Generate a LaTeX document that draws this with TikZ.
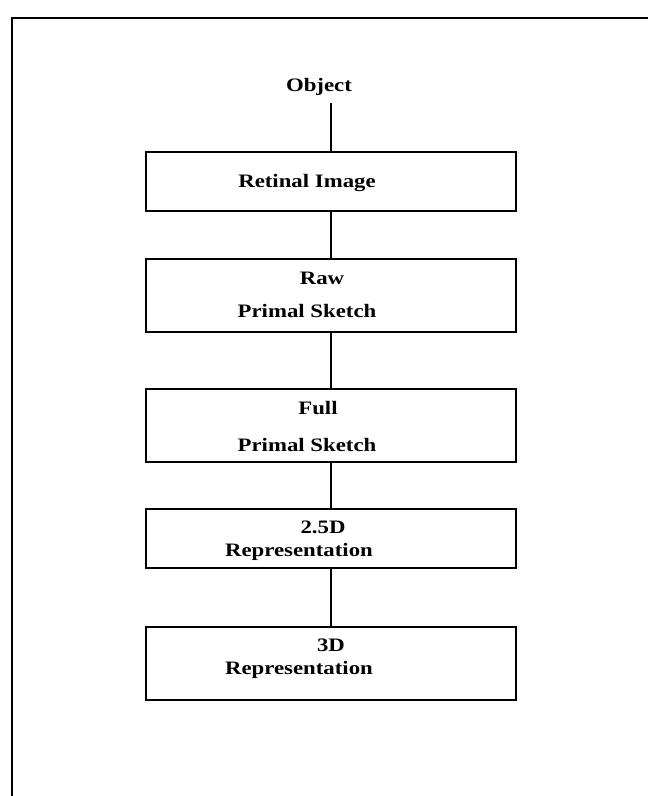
\documentclass[tikz,border=0pt]{standalone}
\usepackage{fontspec}
\newfontfamily\stagefont{Liberation Serif}[FakeStretch=1.2]

\begin{document}
\begin{tikzpicture}[x=1pt,y=-1pt,
  stage node/.style={draw,line width=2.5pt,minimum width=370pt,inner sep=0pt},
  text node/.style={font=\stagefont\bfseries\fontsize{19}{23}\selectfont,anchor=base,inner sep=0pt}]
  \useasboundingbox (0,0) rectangle (648,796);
  % frame
  \draw[line width=2pt] (12,796) -- (12,18) -- (648,18);
  % boxes
  \node[stage node,minimum height=59pt] (1) at (331,181.5) {};
  \node[stage node,minimum height=73pt] (2) at (331,295.5) {};
  \node[stage node,minimum height=73pt] (3) at (331,425.5) {};
  \node[stage node,minimum height=59pt] (4) at (331,538.5) {};
  \node[stage node,minimum height=73pt] (5) at (331,663.5) {};
  % texts
  \node[text node,inner ysep=8pt] (0) at (319,91) {Object};
  \node[text node] (1a) at (307,187) {Retinal Image};
  \node[text node] (2a) at (322,284) {Raw};
  \node[text node] (2b) at (307,317) {Primal Sketch};
  \node[text node] (3a) at (318,414) {Full};
  \node[text node] (3b) at (307,451) {Primal Sketch};
  \node[text node] (4a) at (323,533) {2.5D};
  \node[text node] (4b) at (299,556) {Representation};
  \node[text node] (5a) at (331,651) {3D};
  \node[text node] (5b) at (299,674) {Representation};
  % links
  \draw[line width=2pt] (0.south -| 1.north) -- (1.north);
  \path[draw,line width=2pt]
    (1) edge (2)
    (2) edge (3)
    (3) edge (4)
    (4) edge (5);
\end{tikzpicture}
\end{document}
